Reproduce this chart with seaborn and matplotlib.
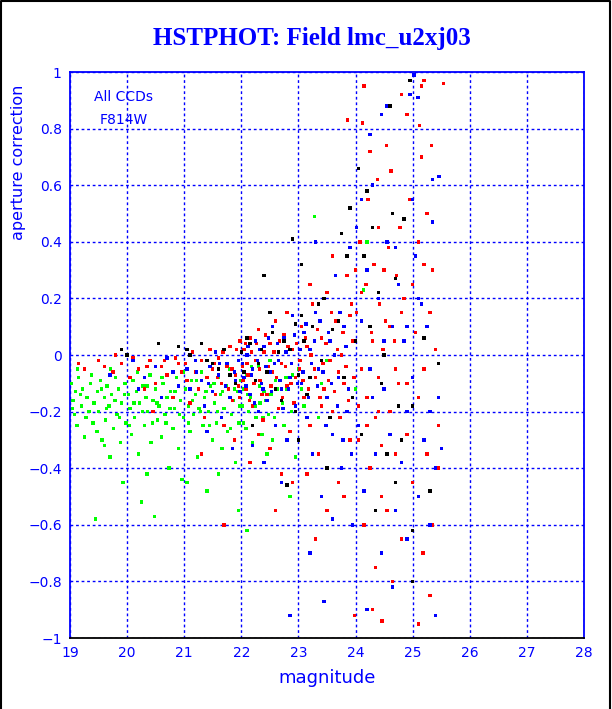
import pandas as pd
import numpy as np
import matplotlib
matplotlib.use('Agg')
import matplotlib.pyplot as plt
import seaborn as sb
from matplotlib.lines import Line2D
from matplotlib.ticker import MultipleLocator

# green chip
green_mag = [19.02, 19.05, 19.08, 19.1, 19.12, 19.15, 19.2, 19.22, 19.25, 19.3, 19.33, 19.36, 19.4, 19.42, 19.45, 19.48,
             19.5, 19.53, 19.56, 19.6, 19.62, 19.65, 19.68, 19.7, 19.73, 19.76, 19.8, 19.82, 19.85, 19.88, 19.9, 19.93, 19.96, 19.98,
             20.02, 20.05, 20.08, 20.1, 20.13, 20.16, 20.2, 20.22, 20.25, 20.28, 20.3, 20.33, 20.36, 20.4, 20.42, 20.45, 20.48,
             20.5, 20.53, 20.56, 20.6, 20.63, 20.66, 20.7, 20.73, 20.76, 20.8, 20.83, 20.86, 20.9, 20.93, 20.96, 20.99,
             21.02, 21.05, 21.08, 21.1, 21.13, 21.16, 21.2, 21.23, 21.26, 21.3, 21.33, 21.36, 21.4, 21.43, 21.46, 21.5,
             21.53, 21.56, 21.6, 21.63, 21.66, 21.7, 21.73, 21.76, 21.8, 21.83, 21.86, 21.9, 21.93, 21.96, 21.99,
             22.02, 22.05, 22.08, 22.1, 22.13, 22.16, 22.2, 22.23, 22.26, 22.3, 22.33, 22.36, 22.4, 22.45, 22.48,
             22.52, 22.55, 22.6, 22.65, 22.7, 22.75, 22.8, 22.85, 22.9, 22.95, 23.0, 23.1, 23.28, 23.35, 23.5, 24.0, 24.2, 24.14]
green_ac = [-0.10, -0.16, -0.21, -0.13, -0.25, -0.08, -0.18, -0.12, -0.29, -0.15, -0.20, -0.10, -0.24, -0.17, -0.58, -0.13,
            -0.20, -0.09, -0.30, -0.15, -0.23, -0.11, -0.18, -0.36, -0.14, -0.26, -0.08, -0.21, -0.12, -0.31, -0.17, -0.45, -0.10, -0.24,
            -0.14, -0.19, -0.28, -0.09, -0.22, -0.13, -0.35, -0.17, -0.52, -0.11, -0.25, -0.15, -0.20, -0.07, -0.31, -0.16, -0.57,
            -0.12, -0.23, -0.18, -0.29, -0.10, -0.21, -0.15, -0.40, -0.13, -0.26, -0.19, -0.08, -0.33, -0.16, -0.44, -0.22,
            -0.12, -0.45, -0.18, -0.27, -0.09, -0.21, -0.14, -0.36, -0.19, -0.06, -0.25, -0.15, -0.48, -0.20, -0.11, -0.30,
            -0.17, -0.24, -0.08, -0.14, -0.33, -0.19, -0.11, -0.27, -0.05, -0.21, -0.16, -0.38, -0.13, -0.24, -0.09,
            -0.18, -0.12, -0.26, -0.07, -0.20, -0.15, -0.31, -0.10, -0.22, -0.04, -0.17, -0.28, -0.13, -0.06, -0.21,
            -0.14, -0.30, -0.09, -0.19, -0.03, -0.25, -0.12, -0.50, -0.07, -0.36, -0.05, -0.18, 0.49, -0.22, -0.02, -0.12, 0.40, 0.23]
green_mag += [19.04, 19.13, 19.18, 19.28, 19.38, 19.47, 19.55, 19.64, 19.71, 19.79, 19.87, 19.95, 20.04, 20.12, 20.18, 20.27,
              20.35, 20.44, 20.52, 20.61, 20.68, 20.75, 20.84, 20.92, 20.98, 21.07, 21.14, 21.22, 21.29, 21.38, 21.44, 21.52,
              21.58, 21.67, 21.74, 21.81, 21.88, 21.97, 22.04, 22.11, 22.18, 22.24, 22.32, 22.38, 22.43, 22.5, 22.58, 22.63,
              22.72, 22.78, 22.88, 23.05, 23.2, 23.4, 21.95, 22.1, 21.6, 20.35, 19.6, 22.45]
green_ac += [-0.19, -0.05, -0.14, -0.22, -0.07, -0.27, -0.12, -0.19, -0.05, -0.16, -0.22, -0.14, -0.25, -0.17, -0.06, -0.20,
             -0.11, -0.24, -0.17, -0.08, -0.24, -0.19, -0.13, -0.21, -0.06, -0.24, -0.16, -0.09, -0.20, -0.13, -0.25, -0.10,
             -0.20, -0.13, -0.04, -0.26, -0.12, -0.18, -0.24, -0.14, -0.04, -0.18, -0.11, -0.22, -0.16, -0.02, -0.22, -0.12,
             -0.17, -0.08, -0.20, -0.12, -0.08, -0.10, -0.55, -0.62, -0.42, -0.42, -0.32, -0.35]

# red chip
red_mag = [19.15, 19.25, 19.5, 19.6, 19.75, 19.8, 19.9, 20.05, 20.2, 20.3, 20.4, 20.5, 20.6, 20.7, 20.8, 20.85, 20.95, 20.45,
           21.02, 21.05, 21.1, 21.15, 21.2, 21.25, 21.3, 21.35, 21.4, 21.45, 21.5, 21.55, 21.6, 21.65, 21.7, 21.75, 21.8, 21.85,
           21.9, 21.95, 21.98, 21.3, 21.7, 21.88,
           22.02, 22.05, 22.08, 22.12, 22.15, 22.2, 22.25, 22.3, 22.33, 22.38, 22.4, 22.45, 22.5, 22.55, 22.6, 22.65, 22.7, 22.75,
           22.8, 22.85, 22.9, 22.95, 22.5, 22.7, 22.3, 22.9, 22.6, 22.15, 22.8,
           23.02, 23.05, 23.1, 23.15, 23.2, 23.25, 23.3, 23.35, 23.4, 23.45, 23.5, 23.55, 23.6, 23.65, 23.7, 23.75, 23.8, 23.85,
           23.9, 23.95, 23.3, 23.5, 23.8, 23.2, 23.6, 23.15, 23.9, 23.4, 23.7,
           24.02, 24.05, 24.08, 24.1, 24.12, 24.15, 24.18, 24.2, 24.22, 24.25, 24.28, 24.3, 24.32, 24.35, 24.38, 24.4, 24.42, 24.45,
           24.48, 24.35, 24.15, 24.25, 24.05, 24.4, 24.45,
           24.52, 24.55, 24.58, 24.6, 24.62, 24.65, 24.68, 24.7, 24.72, 24.75, 24.78, 24.8, 24.85, 24.9, 24.95, 25.0, 25.05, 25.1,
           25.15, 25.18, 25.2, 25.25, 25.3, 25.35, 25.4, 25.45, 25.25, 25.3, 25.15, 24.9, 25.1, 24.8,
           24.46, 23.98, 24.14, 23.86, 25.54, 25.2, 25.12, 25.33, 24.54]
red_ac = [-0.03, -0.05, -0.02, -0.04, -0.06, 0.00, -0.03, -0.08, -0.05, -0.12, -0.02, -0.10, -0.04, -0.07, -0.15, -0.01, -0.06, -0.20,
          -0.03, -0.09, -0.17, 0.01, -0.06, -0.12, -0.02, -0.22, -0.08, 0.02, -0.05, -0.14, -0.01, -0.10, -0.25, -0.04, 0.03, -0.16,
          -0.07, -0.11, 0.05, -0.35, -0.60, -0.30,
          -0.04, 0.02, -0.12, -0.07, 0.06, -0.18, -0.02, 0.09, -0.09, -0.23, 0.01, -0.14, 0.04, -0.06, 0.12, -0.19, -0.03, 0.07,
          -0.11, -0.27, 0.02, -0.08, -0.33, -0.42, -0.28, -0.45, -0.55, -0.38, 0.15,
          -0.05, 0.10, -0.15, 0.03, -0.25, 0.18, -0.08, -0.35, 0.06, -0.12, 0.22, -0.02, -0.20, 0.12, -0.45, 0.00, -0.10, 0.28,
          -0.30, 0.05, -0.65, -0.55, -0.50, 0.25, 0.35, -0.42, 0.14, -0.18, -0.06,
          0.15, -0.30, 0.40, -0.05, 0.82, -0.60, 0.25, -0.15, 0.55, -0.40, 0.08, -0.90, 0.32, -0.22, 0.62, -0.08, 0.18, -0.50,
          0.02, -0.75, 0.95, 0.72, -0.18, 0.45, -0.32,
          0.12, -0.55, 0.38, -0.20, 0.65, -0.80, 0.05, -0.35, 0.28, -0.10, 0.45, -0.65, 0.20, -0.28, 0.55, -0.45, 0.08, -0.15,
          0.95, -0.70, 0.32, -0.35, 0.15, -0.60, 0.02, -0.25, 0.50, -0.85, 0.70, 0.85, -0.95, 0.92,
          -0.94, -0.92, 0.95, 0.83, 0.96, 0.97, 0.81, 0.74, 0.74]
red_mag += [21.52, 21.58, 21.68, 21.78, 21.84, 21.92, 21.97, 22.03, 22.07, 22.1, 22.14, 22.18, 22.22, 22.27, 22.32, 22.36,
            22.42, 22.47, 22.52, 22.57, 22.62, 22.67, 22.72, 22.77, 22.82, 22.87, 22.92, 22.97, 23.03, 23.08, 23.12, 23.18,
            23.22, 23.28, 23.33, 23.38, 23.43, 23.48, 23.53, 23.58, 23.63, 23.68, 23.73, 23.78, 23.83, 23.88, 23.93, 23.97,
            24.0, 24.1, 24.2, 24.3, 24.4, 24.5, 24.6, 24.7, 24.8, 24.9, 25.0, 25.1, 25.2, 25.35, 25.45,
            20.1, 20.35, 20.65, 20.9]
red_ac += [-0.03, -0.08, 0.01, -0.12, -0.05, 0.02, -0.15, -0.09, 0.04, -0.03, -0.16, 0.01, -0.10, 0.04, -0.05, -0.14,
           0.07, -0.04, -0.11, 0.01, -0.08, 0.05, -0.15, -0.04, 0.03, -0.10, -0.17, 0.04, -0.02, -0.09, 0.06, -0.12,
           0.00, -0.05, 0.09, -0.15, -0.03, 0.04, -0.09, 0.15, -0.13, 0.02, -0.22, 0.08, -0.04, -0.16, 0.18, -0.08,
           0.30, 0.22, -0.25, 0.05, -0.20, 0.30, 0.10, -0.05, 0.15, -0.10, 0.25, 0.40, -0.05, 0.30, -0.40,
           -0.01, -0.04, -0.02, -0.03]

# blue chip
blue_mag = [20.1, 20.3, 20.5, 20.6, 20.8, 20.9, 20.7, 19.7, 20.2,
            21.05, 21.1, 21.2, 21.3, 21.35, 21.45, 21.5, 21.6, 21.65, 21.75, 21.8, 21.9, 21.95, 21.4, 21.85, 21.55,
            22.05, 22.1, 22.15, 22.2, 22.25, 22.3, 22.35, 22.4, 22.45, 22.5, 22.55, 22.6, 22.65, 22.7, 22.75, 22.8, 22.85, 22.9,
            22.95, 22.4, 22.2, 22.7, 22.85,
            23.05, 23.1, 23.15, 23.2, 23.25, 23.3, 23.35, 23.4, 23.45, 23.5, 23.55, 23.6, 23.65, 23.7, 23.75, 23.8, 23.85, 23.9,
            23.95, 23.45, 23.2, 23.3, 23.6,
            24.02, 24.05, 24.1, 24.15, 24.2, 24.25, 24.3, 24.35, 24.4, 24.45, 24.5, 24.55, 24.6, 24.65, 24.7, 24.75, 24.8, 24.85,
            24.9, 24.95, 25.0, 25.05, 25.1, 25.15, 25.2, 25.25, 25.3, 25.35, 25.4, 25.45, 25.5, 24.25, 24.45, 25.0, 24.65, 24.9,
            25.4, 24.2, 25.02, 25.09, 24.54, 25.46, 25.35]
blue_ac = [-0.02, -0.08, -0.04, -0.15, -0.06, -0.11, -0.01, -0.07, -0.12,
           -0.05, -0.12, -0.02, -0.09, -0.18, -0.04, -0.13, -0.07, -0.22, -0.03, -0.15, -0.09, -0.02, -0.27, -0.33, 0.01,
           -0.08, 0.00, -0.14, -0.05, 0.05, -0.20, -0.10, 0.03, -0.16, -0.06, 0.10, -0.25, -0.02, -0.12, 0.06, -0.30, -0.08, 0.14,
           -0.18, -0.38, -0.32, -0.45, -0.92,
           -0.10, 0.08, -0.22, 0.02, -0.35, 0.15, -0.05, -0.50, 0.20, -0.15, 0.05, -0.28, 0.28, -0.08, -0.40, 0.10, -0.20, 0.38,
           -0.60, -0.87, -0.70, 0.40, -0.58,
           0.45, -0.25, 0.12, -0.48, 0.30, -0.05, 0.60, -0.35, 0.20, -0.70, -0.12, 0.40, -0.28, 0.10, -0.55, 0.25, -0.38, 0.05,
           -0.20, 0.92, -0.08, 0.35, -0.50, 0.18, -0.30, 0.10, -0.60, 0.62, -0.40, -0.15, -0.33, 0.78, 0.85, 0.55, -0.82, -0.65,
           -0.92, -0.90, 0.99, 0.91, 0.88, 0.63, 0.47]
blue_mag += [21.22, 21.42, 21.62, 21.72, 21.88, 21.98, 22.02, 22.08, 22.12, 22.18, 22.23, 22.28, 22.33, 22.38, 22.43, 22.48,
             22.53, 22.58, 22.63, 22.68, 22.73, 22.78, 22.83, 22.88, 22.93, 22.98, 23.03, 23.08, 23.13, 23.18, 23.23, 23.28,
             23.33, 23.38, 23.43, 23.48, 23.53, 23.58, 23.63, 23.68, 23.73, 23.78, 23.83, 23.88, 23.93, 24.1, 24.3, 24.5,
             24.7, 24.9, 25.1, 25.3]
blue_ac += [-0.06, -0.10, -0.03, -0.11, -0.06, -0.13, -0.03, -0.11, 0.03, -0.07, -0.17, -0.02, 0.02, -0.12, -0.04, 0.06,
            -0.13, -0.03, 0.04, -0.09, -0.19, 0.01, -0.12, -0.03, 0.07, -0.10, 0.02, -0.06, 0.11, -0.15, -0.03, 0.05,
            -0.11, 0.12, -0.06, -0.25, 0.08, -0.10, 0.00, -0.18, 0.15, -0.30, 0.03, -0.12, -0.35, 0.55, -0.15, 0.05,
            0.38, 0.10, 0.20, -0.20]

# black chip
black_mag = [19.9, 20.0, 21.05, 21.3, 21.4, 21.6, 21.9, 22.1, 22.3, 22.5, 22.6, 22.75, 22.9, 22.95, 23.05, 23.2, 23.35, 23.5,
             23.6, 23.75, 23.85, 23.95, 24.05, 24.1, 24.2, 24.25, 24.35, 24.4, 24.5, 24.55, 24.6, 24.7, 24.75, 24.85, 24.95,
             25.2, 25.3, 25.45, 24.3, 23.9, 22.4, 22.2, 25.0, 25.0, 25.0, 24.7, 23.0, 22.8,
             21.1, 21.5, 21.7, 21.8, 22.0, 22.05, 22.15, 22.25, 22.35, 22.45, 22.55, 22.65, 22.7, 22.85, 23.0, 23.1,
             23.15, 23.25, 23.4, 23.45, 23.55, 23.7, 23.8, 24.0, 24.15, 24.45, 24.65, 24.8, 23.05, 22.95, 20.55, 20.9]
black_ac = [0.02, 0.00, 0.02, 0.04, -0.02, -0.05, -0.10, 0.06, -0.03, 0.15, -0.12, 0.05, 0.41, -0.20, 0.14, -0.08, 0.18, -0.40,
            0.09, 0.43, 0.35, -0.15, 0.66, -0.28, 0.58, 0.10, -0.55, 0.22, 0.00, -0.35, 0.88, 0.27, -0.18, 0.48, 0.97,
            0.06, -0.48, -0.03, 0.45, 0.52, 0.28, -0.25, -0.18, -0.62, -0.80, -0.45, -0.30, -0.46,
            0.00, -0.03, 0.02, -0.07, 0.01, -0.06, 0.04, -0.09, 0.02, -0.06, 0.08, 0.01, -0.16, 0.02, -0.07, 0.05,
            -0.14, 0.10, -0.02, 0.20, -0.22, 0.12, -0.08, 0.05, 0.35, -0.10, 0.50, -0.30, 0.32, 0.11, 0.04, 0.03]

df = pd.concat([
    pd.DataFrame({'mag': green_mag, 'ac': green_ac, 'chip': 'green'}),
    pd.DataFrame({'mag': red_mag, 'ac': red_ac, 'chip': 'red'}),
    pd.DataFrame({'mag': blue_mag, 'ac': blue_ac, 'chip': 'blue'}),
    pd.DataFrame({'mag': black_mag, 'ac': black_ac, 'chip': 'black'}),
])
colors = {'green': '#00ff00', 'red': '#ff0000', 'blue': '#0000ff', 'black': '#000000'}

sb.set_style('white')
plt.rcParams['font.family'] = ['DejaVu Sans']

fig = plt.figure(figsize=(6.12, 7.09), dpi=100)
ax = fig.add_axes([70/612, 71/709, 514/612, 566/709])

# scatter of all chips
sb.scatterplot(data=df, x='mag', y='ac', hue='chip', palette=colors, marker='s', s=6,
               linewidth=0, legend=False, ax=ax, zorder=3)

ax.set_xlim(19, 28)
ax.set_ylim(-1, 1)
ax.xaxis.set_major_locator(MultipleLocator(1))
ax.xaxis.set_minor_locator(MultipleLocator(0.2))
ax.yaxis.set_major_locator(MultipleLocator(0.2))
ax.yaxis.set_minor_locator(MultipleLocator(0.05))
ax.grid(True, which='major', color='#0000ff', linestyle=(0, (2, 2)), linewidth=1)
ax.set_axisbelow(True)
ax.tick_params(which='both', direction='in', colors='#0000ff', labelcolor='#0000ff',
               top=False, right=False, labelsize=10)
ax.tick_params(which='major', length=0, pad=6)
ax.tick_params(which='minor', length=6, width=1)
ax.set_yticks(np.arange(-1, 1.01, 0.2))
ax.set_yticklabels(['−1', '−0.8', '−0.6', '−0.4', '−0.2', '0', '0.2', '0.4', '0.6', '0.8', '1'])
for side in ['left', 'top', 'right']:
    ax.spines[side].set_color('#0000ff')
ax.spines['bottom'].set_color('#000000')
for sp in ax.spines.values():
    sp.set_linewidth(1.3)

ax.set_xlabel('magnitude', color='#0000ff', fontsize=13, labelpad=6)
ax.set_ylabel('aperture correction', color='#0000ff', fontsize=11.5, labelpad=6)
ax.yaxis.set_label_coords(-0.085, 0.84)

ax.text(0.105, 0.955, 'All CCDs', transform=ax.transAxes, ha='center', va='center',
        color='#0000ff', fontsize=10)
ax.text(0.105, 0.915, 'F814W', transform=ax.transAxes, ha='center', va='center',
        color='#0000ff', fontsize=10)

fig.text(0.51, 1 - 38/709, 'HSTPHOT: Field lmc_u2xj03', ha='center', va='center',
         color='#0000ff', fontsize=18, fontweight='bold', family='Liberation Serif')

# frame round the picture
fig.add_artist(Line2D([0.002, 0.002, 0.997, 0.997], [0, 0.998, 0.998, 0], color='black',
                      linewidth=1.5, transform=fig.transFigure))

plt.savefig('out.png', dpi=100)
